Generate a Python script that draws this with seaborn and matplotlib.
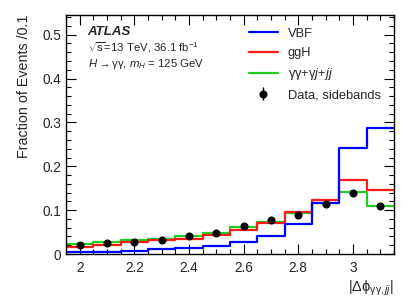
import numpy as np
import pandas as pd
import matplotlib
matplotlib.use("Agg")
import matplotlib.pyplot as plt
from matplotlib.lines import Line2D
from matplotlib.ticker import MultipleLocator
import seaborn as sns

# ---- data ----
bin_edges = [1.95, 2.05, 2.15, 2.25, 2.35, 2.45, 2.55, 2.65, 2.75, 2.85, 2.95, 3.05, 3.15]
bin_centers = [2.0, 2.1, 2.2, 2.3, 2.4, 2.5, 2.6, 2.7, 2.8, 2.9, 3.0, 3.1]
vbf = [0.0045, 0.005, 0.0076, 0.011, 0.0136, 0.019, 0.027, 0.041, 0.068, 0.117, 0.2416, 0.287]
ggh = [0.0167, 0.021, 0.0265, 0.031, 0.035, 0.043, 0.055, 0.070, 0.095, 0.124, 0.168, 0.1455]
bkg = [0.0227, 0.0265, 0.032, 0.035, 0.041, 0.048, 0.0606, 0.073, 0.093, 0.117, 0.1417, 0.109]
data = [0.0205, 0.024, 0.028, 0.0326, 0.040, 0.049, 0.063, 0.0765, 0.090, 0.115, 0.140, 0.110]
data_err = [0.0008, 0.0008, 0.0009, 0.001, 0.001, 0.0012, 0.0014, 0.0015, 0.0017, 0.002, 0.0022, 0.002]

labels = ["VBF", "ggH", r"$\mathrm{\gamma\gamma}$+$\mathrm{\gamma}j$+$jj$"]
colors = ["#0000ff", "#ff1a1a", "#22cc22"]

sns.set_style("ticks")
plt.rcParams["font.family"] = ["Liberation Sans", "DejaVu Sans"]
plt.rcParams["mathtext.fontset"] = "custom"
plt.rcParams["mathtext.rm"] = "Liberation Sans"
plt.rcParams["mathtext.it"] = "Liberation Sans:italic"

fig = plt.figure(figsize=(4.15, 3.03), dpi=100)
ax = fig.add_axes([0.159, 0.1617, 0.790, 0.789])

df = pd.DataFrame({
    "x": bin_centers * 3,
    "w": vbf + ggh + bkg,
    "sample": ["VBF"] * 12 + ["ggH"] * 12 + ["bkg"] * 12,
})
for name, col in zip(["bkg", "ggH", "VBF"], [colors[2], colors[1], colors[0]]):
    sns.histplot(data=df[df["sample"] == name], x="x", weights="w", bins=bin_edges,
                 element="step", fill=False, color=col, linewidth=1.6, ax=ax)

eb = ax.errorbar(bin_centers, data, yerr=data_err, fmt="o", color="black",
                 markersize=4.8, elinewidth=1, capsize=0, zorder=5)

ax.set_xlim(1.95, 3.15)
ax.set_ylim(0, 0.545)
ax.xaxis.set_minor_locator(MultipleLocator(0.05))
ax.yaxis.set_minor_locator(MultipleLocator(0.02))
ax.set_xticks([2, 2.2, 2.4, 2.6, 2.8, 3])
ax.set_xticklabels(["2", "2.2", "2.4", "2.6", "2.8", "3"])
ax.set_yticks([0, 0.1, 0.2, 0.3, 0.4, 0.5])
ax.set_yticklabels(["0", "0.1", "0.2", "0.3", "0.4", "0.5"])
ax.tick_params(which="both", direction="in", top=True, right=True, labelsize=9.8, color="black", width=0.8)
ax.tick_params(which="major", length=7)
ax.tick_params(which="minor", length=3.5)
ax.tick_params(axis="x", pad=5)
for s in ax.spines.values():
    s.set_linewidth(1.0)
    s.set_color("black")

ax.set_xlabel(r"$|\Delta\mathrm{\phi}_{\mathrm{\gamma\gamma},jj}|$", fontsize=10.5, loc="right", labelpad=3)
ax.set_ylabel("Fraction of Events /0.1", fontsize=10.3, loc="top", labelpad=8)

ax.text(0.066, 0.93, "ATLAS", transform=ax.transAxes, fontsize=9.5, fontweight="bold",
        fontstyle="italic", va="center")
ax.text(0.066, 0.862, r"$\sqrt{\mathrm{s}}$=13 TeV, 36.1 fb$^{-1}$", transform=ax.transAxes,
        fontsize=8.2, va="center")
ax.text(0.066, 0.795, r"$H\rightarrow\mathrm{\gamma\gamma}$, $m_{H}$ = 125 GeV", transform=ax.transAxes,
        fontsize=8.2, va="center")

handles = [Line2D([], [], color=c, lw=1.6) for c in colors]
handles.append(eb)
leg = ax.legend(handles, labels + ["Data, sidebands"], loc="upper right",
                bbox_to_anchor=(1.0, 1.0), frameon=False, fontsize=9.3,
                handlelength=2.2, labelspacing=0.55, borderaxespad=0.6)

fig.savefig("out.png", dpi=100)
